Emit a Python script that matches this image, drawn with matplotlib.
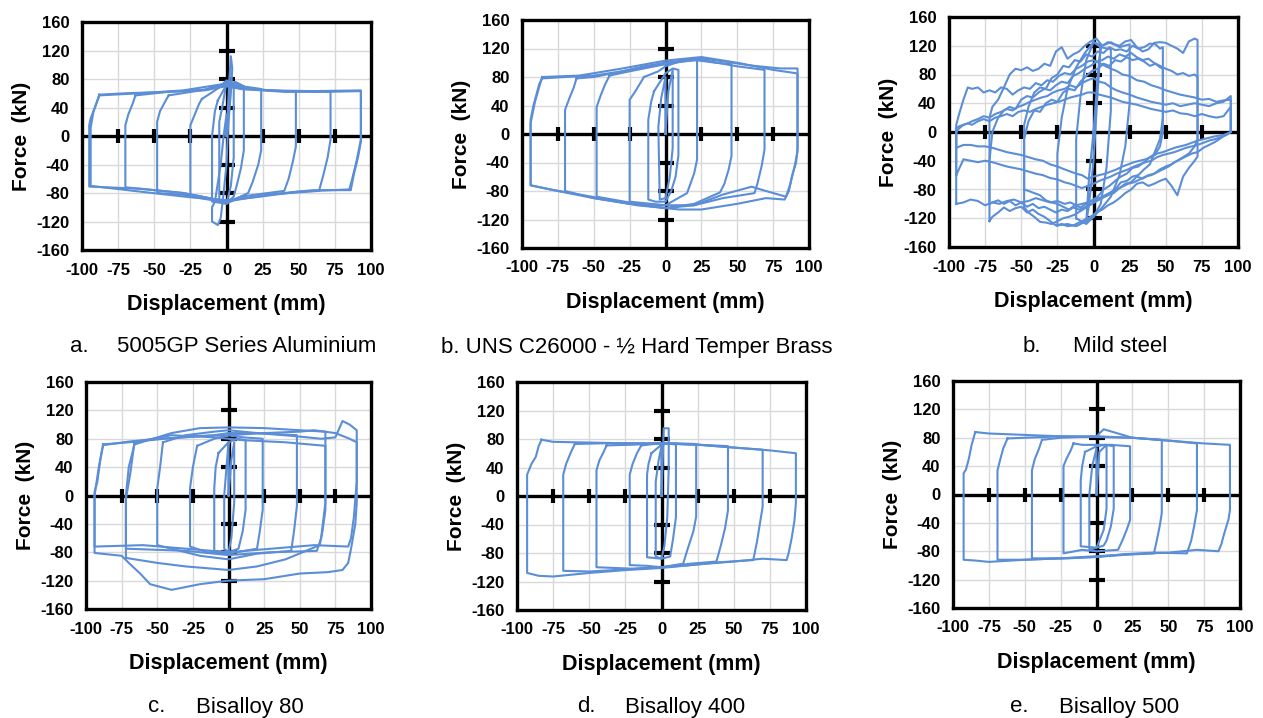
import matplotlib
matplotlib.use("Agg")
import matplotlib.pyplot as plt

plt.rcParams['font.family'] = ['Liberation Sans', 'DejaVu Sans']
plt.rcParams['axes.unicode_minus'] = False

LINE_COLOR = '#5b8ed6'

# ---------------- data: hysteresis loops, displacement (mm) / force (kN) ----------------
# a. 5005GP Series Aluminium
alu_x = [
    [0, 1, 2, 3, 4, 3, 1, 0, -2, -4, -6, -10, -10, -8, -4, -2, 0],
    [-3, 0, 5, 5, 3, 0, -5, -5, -3],
    [-6, 0, 6, 12, 12, 10, 7, 5, 0, -10, -10, -8, -6],
    [-17, -5, 0, 10, 24, 24, 22, 18, 15, 0, -10, -25, -25, -22, -19, -17],
    [-40, -15, 0, 10, 30, 48, 48, 46, 43, 40, 10, 0, -20, -48, -48, -46, -42, -40],
    [-63, -40, -15, 0, 10, 40, 72, 72, 70, 67, 64, 30, 0, -30, -70, -70, -68, -65, -63],
    [-88, -70, -40, -15, 0, 10, 40, 70, 93, 93, 91, 88, 86, 60, 30, 10, 0, -10, -30, -60, -95, -95, -94, -91, -88],
    [-88, -60, -30, -5, 5, 30, 60, 93, 93, 90, 87, 85, 50, 20, 0, -25, -60, -94, -94, -92, -88],
]
alu_y = [
    [0, 40, 80, 112, 95, 60, 10, -40, -80, -115, -125, -120, -100, -92, -40, 0, 30],
    [40, 75, 70, -30, -70, -95, -90, 20, 40],
    [50, 72, 76, 70, -20, -45, -70, -85, -95, -92, 0, 35, 50],
    [52, 68, 78, 70, 66, -20, -40, -65, -80, -95, -90, -85, 15, 30, 45, 52],
    [57, 65, 75, 68, 64, 62, -15, -35, -60, -77, -85, -93, -84, -80, 20, 35, 50, 57],
    [57, 62, 65, 72, 66, 63, 62, -5, -30, -55, -77, -82, -92, -80, -72, 15, 30, 45, 57],
    [58, 60, 62, 64, 70, 66, 62, 62, 63, -8, -30, -55, -76, -76, -82, -88, -92, -88, -80, -74, -71, 15, 25, 40, 58],
    [57, 60, 64, 72, 68, 64, 63, 64, -5, -35, -60, -75, -78, -86, -90, -86, -78, -70, 12, 35, 57],
]

# b. UNS C26000 - 1/2 Hard Temper Brass
brass_x = [
    [0, 2, 5, 5, 3, 0, -4, -5, -3, 0],
    [-8, 0, 5, 9, 9, 7, 4, 0, -7, -12, -12, -10, -8],
    [-15, -5, 0, 10, 22, 22, 20, 17, 15, 0, -10, -25, -25, -21, -18, -15],
    [-39, -25, 0, 20, 35, 46, 46, 44, 41, 38, 20, 0, -20, -48, -48, -45, -42, -39],
    [-62, -50, -25, 0, 25, 50, 69, 69, 67, 64, 62, 40, 20, 0, -25, -50, -70, -70, -67, -64, -62],
    [-86, -70, -50, -30, -15, 0, 15, 25, 40, 60, 80, 92, 92, 91, 88, 86, 83, 70, 50, 25, 10, 0, -20, -40, -60, -80, -94, -94, -92, -90, -88, -86],
    [-86, -60, -30, 0, 25, 50, 75, 92, 92, 90, 87, 84, 70, 60, 40, 20, 0, -25, -50, -75, -94, -94, -91, -86],
]
brass_y = [
    [0, 60, 90, -20, -60, -90, -92, 10, 50, 80],
    [60, 85, 92, 90, -30, -60, -80, -95, -95, -92, 20, 45, 60],
    [80, 88, 95, 102, 105, -36, -55, -72, -83, -100, -98, -95, 48, 60, 70, 80],
    [82, 88, 98, 104, 100, 98, -31, -50, -70, -82, -98, -104, -98, -88, 38, 55, 70, 82],
    [78, 80, 90, 100, 104, 95, 90, -22, -45, -70, -83, -90, -100, -104, -98, -90, -80, 34, 50, 65, 78],
    [78, 80, 82, 88, 95, 100, 104, 106, 102, 96, 92, 92, -20, -40, -60, -80, -92, -90, -98, -106, -106, -104, -100, -92, -85, -78, -72, 20, 40, 55, 70, 78],
    [80, 82, 92, 103, 108, 100, 90, 85, -25, -45, -70, -88, -80, -74, -85, -100, -100, -98, -90, -80, -72, 15, 45, 80],
]

# b. Mild steel (upper branch x and lower branch x for the larger cycles)
steel_up95_x = [-95, -95, -93, -90, -87, -84, -80, -76, -72, -68, -64, -60, -56, -52, -48, -44, -40, -36, -32, -28, -24, -20,
                -16, -12, -8, -4, 0, 4, 8, 12, 16, 20, 25, 30, 35, 40, 45, 50, 55, 60, 65, 70, 75, 80, 85, 90, 95]
steel_dn95_x = [95, 93, 90, 87, 84, 80, 76, 72, 68, 64, 60, 56, 52, 48, 44, 40, 36, 32, 28, 24, 20, 16, 12, 8, 4, 0,
                -4, -8, -12, -16, -20, -25, -30, -35, -40, -45, -50, -55, -60, -65, -70, -75, -80, -85, -90, -95]
steel_up72_x = [-72, -72, -70, -66, -62, -58, -54, -50, -46, -42, -38, -34, -30, -26, -22, -18, -14, -10, -6, -2,
                2, 6, 10, 14, 18, 22, 26, 30, 34, 38, 42, 46, 50, 54, 58, 62, 66, 70, 72]
steel_dn72_x = [72, 70, 66, 62, 58, 54, 50, 46, 42, 38, 34, 30, 26, 22, 18, 14, 10, 6, 2,
                -2, -6, -10, -14, -18, -22, -26, -30, -34, -38, -42, -46, -50, -54, -58, -62, -66, -70, -72]
steel_up48_x = [-48, -48, -45, -41, -37, -33, -29, -25, -21, -17, -13, -9, -5, -1, 3, 7, 11, 15, 19, 23, 27, 31, 35, 39, 43, 46, 48]
steel_dn48_x = [48, 46, 43, 39, 35, 31, 27, 23, 19, 15, 11, 7, 3, -1, -5, -9, -13, -17, -21, -25, -29, -33, -37, -41, -45, -48]

steel_x = [
    [0, 3, 5, 3, 0, -3, -5, -3, 0],
    [-12, -12, -9, -5, 0, 5, 12, 12, 9, 5, 0, -5, -12],
    [-25, -25, -22, -18, -12, -6, 0, 6, 12, 18, 25, 25, 22, 18, 12, 6, 0, -6, -12, -18, -25],
    steel_up48_x + steel_dn48_x,
    steel_up48_x + steel_dn48_x,
    steel_up72_x + steel_dn72_x,
    steel_up72_x + steel_dn72_x,
    steel_up95_x + steel_dn95_x,
    steel_up95_x + steel_dn95_x,
    steel_up95_x + steel_dn95_x,
]
steel_y = [
    [0, 80, 120, 60, -40, -100, -125, -60, 0],
    [-120, -10, 50, 100, 125, 118, 115, 30, -50, -100, -118, -128, -120],
    [-130, -30, 20, 60, 90, 110, 125, 120, 125, 118, 122, 40, -20, -60, -90, -105, -118, -125, -131, -128, -130],
    [-105, 10, 35, 55, 62, 60, 75, 80, 92, 90, 100, 98, 108, 105, 112, 110, 118, 114, 115, 112, 120, 116, 118, 123, 122, 116, 118,
     20, -10, -25, -45, -52, -60, -62, -68, -70, -80, -85, -90, -95, -100, -105, -110, -115, -118, -120, -124, -128, -126, -125, -118, -112, -105],
    [-80, -10, 15, 30, 28, 40, 45, 42, 55, 60, 58, 70, 78, 85, 88, 95, 92, 100, 98, 104, 100, 102, 98, 92, 95, 90, 88,
     0, -20, -30, -35, -42, -48, -50, -58, -62, -68, -75, -80, -90, -95, -100, -105, -102, -108, -104, -100, -98, -95, -88, -85, -82, -80],
    [-124, 20, 35, 45, 62, 80, 88, 86, 90, 85, 88, 95, 92, 112, 118, 102, 108, 112, 120, 126,
     130, 120, 125, 122, 120, 126, 128, 118, 112, 115, 124, 125, 124, 120, 116, 110, 126, 130, 128,
     -34, -40, -50, -62, -88, -75, -65, -68, -72, -75, -70, -72, -80, -85, -92, -98, -102, -108, -112,
     -118, -122, -126, -130, -131, -128, -130, -124, -118, -114, -108, -112, -104, -106, -110, -105, -112, -118, -124],
    [-100, -40, 0, 20, 30, 35, 32, 45, 50, 48, 55, 60, 58, 65, 70, 68, 78, 82, 88, 92,
     98, 100, 105, 102, 108, 105, 110, 104, 100, 102, 96, 92, 88, 85, 80, 82, 78, 80, 76,
     -10, -20, -30, -35, -40, -45, -48, -52, -58, -60, -65, -62, -70, -72, -78, -85, -88, -92, -96,
     -100, -105, -108, -105, -110, -108, -112, -108, -104, -106, -100, -104, -98, -102, -96, -100, -95, -98, -100],
    [-100, 10, 25, 45, 62, 60, 62, 55, 58, 55, 62, 60, 52, 58, 62, 60, 68, 65, 72, 70, 78, 82, 80, 88, 92, 98,
     100, 96, 92, 88, 85, 80, 78, 72, 70, 65, 62, 58, 55, 52, 50, 48, 45, 46, 42, 44, 45,
     0, -3, -6, -10, -14, -18, -22, -28, -30, -34, -38, -42, -48, -52, -56, -60, -62, -66, -70, -72, -76, -80, -84, -88, -92, -95,
     -98, -100, -102, -98, -100, -96, -98, -95, -92, -96, -98, -94, -96, -100, -98, -102, -96, -94, -98, -100],
    [-60, 0, 5, 10, 12, 15, 18, 22, 20, 25, 28, 32, 30, 35, 38, 42, 45, 48, 50, 55, 58, 60, 65, 62, 68, 72,
     75, 70, 68, 62, 58, 55, 52, 48, 45, 42, 40, 38, 40, 36, 38, 40, 38, 36, 40, 42, 50,
     0, -2, -5, -8, -10, -12, -15, -18, -20, -22, -25, -28, -30, -32, -35, -40, -42, -45, -48, -52, -55, -58, -62, -65, -68, -72,
     -75, -78, -75, -72, -70, -66, -64, -60, -58, -55, -52, -50, -48, -45, -42, -40, -42, -40, -38, -60],
    [-22, 5, 8, 10, 12, 10, 15, 18, 15, 20, 22, 25, 22, 28, 30, 28, 32, 35, 38, 40, 42, 45, 48, 50, 52, 55,
     55, 52, 50, 48, 45, 42, 40, 38, 35, 32, 30, 28, 30, 26, 25, 22, 25, 22, 20, 22, 35,
     0, -2, -4, -5, -6, -8, -10, -12, -15, -18, -20, -22, -25, -28, -30, -35, -38, -40, -42, -45, -48, -52, -55, -58, -60, -62,
     -65, -60, -58, -55, -52, -48, -45, -40, -38, -35, -32, -30, -28, -25, -22, -20, -20, -18, -18, -22],
]

# c. Bisalloy 80
b80_x = [
    [0, 2, 4, 4, 2, 0, -3, -3, -1, 0],
    [-7, 0, 6, 12, 12, 10, 7, 0, -10, -10, -9, -7],
    [-22, -10, 0, 10, 24, 24, 22, 20, 0, -15, -27, -27, -25, -22],
    [-46, -30, -10, 0, 20, 48, 48, 46, 44, 20, 0, -20, -50, -50, -48, -46],
    [-66, -40, -20, 0, 25, 50, 68, 68, 66, 64, 40, 20, 0, -30, -50, -72, -72, -70, -66],
    [-66, -40, -10, 10, 40, 68, 68, 65, 62, 30, 0, -30, -72, -72, -69, -66],
    [-88, -70, -50, -30, -10, 0, 20, 45, 65, 75, 80, 85, 90, 90, 89, 86, 84, 80, 70, 50, 25, 0, -20, -40, -55, -62, -70, -75, -94, -94, -92, -90, -88],
    [-88, -70, -45, -20, 0, 25, 50, 60, 75, 85, 90, 90, 88, 86, 84, 60, 30, 0, -30, -60, -94, -94, -91, -88],
]
b80_y = [
    [0, 50, 75, -10, -60, -80, -75, 0, 50, 75],
    [60, 75, 80, 78, -20, -50, -75, -80, -78, 10, 40, 60],
    [70, 80, 85, 82, 80, -20, -50, -75, -82, -80, -72, 10, 40, 70],
    [75, 85, 90, 92, 88, 85, -15, -50, -78, -82, -90, -85, -70, 10, 40, 75],
    [72, 88, 95, 96, 95, 92, 90, -20, -50, -70, -90, -100, -105, -100, -95, -88, 0, 40, 72],
    [75, 85, 82, 78, 75, 70, -10, -60, -78, -80, -84, -78, -75, -5, 30, 75],
    [71, 76, 80, 82, 85, 88, 88, 84, 80, 82, 105, 100, 92, -10, -40, -75, -95, -105, -108, -110, -118, -120, -125, -133, -125, -110, -95, -85, -81, 5, 20, 50, 71],
    [72, 75, 80, 84, 85, 88, 90, 92, 88, 80, 75, 20, -30, -60, -72, -70, -75, -80, -75, -70, -72, 0, 40, 72],
]

# d. Bisalloy 400
b400_x = [
    [0, 1, 1.5, 5, 5, 4, 2, 0, -4, -4, -2, 0],
    [-7, 0, 5, 10, 10, 8, 6, 0, -10, -10, -9, -7],
    [-14, -5, 0, 10, 24, 24, 22, 18, 15, 0, -10, -22, -22, -20, -17, -14],
    [-38, -20, 0, 25, 46, 46, 44, 41, 38, 20, 0, -20, -45, -45, -43, -40, -38],
    [-60, -40, -20, 0, 25, 50, 70, 70, 68, 66, 63.5, 40, 20, 0, -25, -50, -68, -68, -66, -63, -60],
    [-83, -75, -50, -25, 0, 25, 50, 75, 93, 93, 92, 90, 88, 86.6, 70, 50, 25, 0, -25, -50, -75, -85, -93, -93, -92, -90, -87, -85, -83],
]
b400_y = [
    [0, 60, 95, 95, 40, -30, -70, -88, -85, 20, 50, 70],
    [60, 72, 74, 72, -30, -60, -85, -88, -86, 30, 45, 60],
    [71, 73, 74, 74, 73, -29, -50, -75, -95, -100, -98, -97, 30, 45, 60, 71],
    [71, 72, 74, 72, 70, -20, -45, -70, -92, -95, -100, -102, -100, 36, 50, 62, 71],
    [73, 74, 74, 74, 72, 68, 65, -15, -40, -65, -90, -93, -97, -100, -103, -106, -105, 30, 45, 60, 73],
    [79, 76, 75, 74, 73.6, 72, 68, 64, 60, -10, -35, -60, -80, -90, -88, -92, -96, -101, -104, -108, -113, -112, -108, 30, 35, 45, 55, 70, 79],
]

# e. Bisalloy 500
b500_x = [
    [0, 2, 7, 7, 5, 0, -5, -5, -3, 0],
    [-8, 0, 6, 12, 12, 10, 7, 5, 0, -11, -11, -10, -8],
    [-16, -10, 0, 10, 23.4, 23.4, 21, 18, 15, 0, -10, -23, -23, -21, -18, -16],
    [-38, -25, 0, 25, 45.5, 45.5, 44, 42, 40, 20, 0, -20, -45, -45, -43, -40, -38],
    [-62, -50, -25, 0, 5, 25, 50, 70, 70, 68, 66, 63, 40, 20, 0, -25, -50, -69, -69, -67, -65, -62],
    [-84.5, -75, -50, -25, 0, 25, 50, 75, 93, 93, 92, 89, 87, 85, 70, 50, 25, 0, -25, -50, -75, -85, -92.6, -92.6, -91, -89, -87, -84.5],
]
b500_y = [
    [0, 60, 70, -20, -50, -75, -78, 0, 40, 65],
    [60, 68, 70, 68, -20, -45, -65, -72, -75, -73, 20, 40, 60],
    [72, 70, 70, 70, 68, -36, -50, -65, -78, -80, -78, -83, 40, 50, 62, 72],
    [77, 80, 82, 80, 77, -26, -45, -65, -83, -85, -88, -90, -90, 34, 50, 65, 77],
    [79, 80, 82, 82, 92, 80, 76, 72, -22, -45, -65, -83, -82, -84, -88, -90, -92, -92, 34, 50, 65, 79],
    [88, 86, 84, 82, 81, 80, 76, 72, 70, -22, -35, -55, -70, -80, -78, -82, -84, -87, -90, -92, -95, -93, -92, 30, 35, 50, 70, 88],
]

x_ticks = [-100, -75, -50, -25, 0, 25, 50, 75, 100]
y_ticks = [-160, -120, -80, -40, 0, 40, 80, 120, 160]

# panel boxes in figure pixels: left, top, right, bottom
W, H = 1263, 718
boxes = [
    (82, 22, 371, 250), (522, 20, 809, 248), (949, 17, 1238, 247),
    (86, 382, 371, 609), (517, 382, 806, 610), (953, 381, 1240, 608),
]
panels = [(alu_x, alu_y), (brass_x, brass_y), (steel_x, steel_y),
          (b80_x, b80_y), (b400_x, b400_y), (b500_x, b500_y)]


def draw_panel(ax, loops_x, loops_y):
    for lx, ly in zip(loops_x, loops_y):
        ax.plot(lx + [lx[0]], ly + [ly[0]], color=LINE_COLOR, lw=1.5, zorder=4)
    ax.set_xlim(-100, 100)
    ax.set_ylim(-160, 160)
    ax.set_xticks(x_ticks)
    ax.set_yticks(y_ticks)
    ax.grid(True, color='#d9d9d9', lw=1.0, zorder=0)
    ax.set_axisbelow(True)
    ax.tick_params(length=0, pad=9, labelsize=12)
    for lab in ax.get_xticklabels() + ax.get_yticklabels():
        lab.set_fontweight('bold')
    for sp in ax.spines.values():
        sp.set_linewidth(2.4)
        sp.set_color('black')
    ax.axhline(0, color='black', lw=2.4, zorder=2)
    ax.axvline(0, color='black', lw=2.4, zorder=2)
    inner_x = [t for t in x_ticks if t not in (-100, 0, 100)]
    inner_y = [t for t in y_ticks if t not in (-160, 0, 160)]
    ax.plot(inner_x, [0] * len(inner_x), ls='none', marker='|', ms=10, mew=3, color='black', zorder=3)
    ax.plot([0] * len(inner_y), inner_y, ls='none', marker='_', ms=12, mew=3, color='black', zorder=3)
    ax.set_xlabel('Displacement (mm)', fontsize=15.5, fontweight='bold', labelpad=12)
    ax.set_ylabel('Force  (kN)', fontsize=15, fontweight='bold', labelpad=4)


fig = plt.figure(figsize=(W / 100, H / 100), dpi=100)
for (l, t, r, b), (px, py) in zip(boxes, panels):
    ax = fig.add_axes([l / W, 1 - b / H, (r - l) / W, (b - t) / H])
    draw_panel(ax, px, py)

cap = dict(fontsize=16, va='center')
fig.text(70 / W, 1 - 347 / H, 'a.', **cap)
fig.text(117 / W, 1 - 347 / H, '5005GP Series Aluminium', **cap)
fig.text(637 / W, 1 - 347 / H, 'b. UNS C26000 - ½ Hard Temper Brass', ha='center', **cap)
fig.text(1023 / W, 1 - 347 / H, 'b.', **cap)
fig.text(1073 / W, 1 - 347 / H, 'Mild steel', **cap)
fig.text(148 / W, 1 - 707 / H, 'c.', **cap)
fig.text(196 / W, 1 - 707 / H, 'Bisalloy 80', **cap)
fig.text(577 / W, 1 - 707 / H, 'd.', **cap)
fig.text(625 / W, 1 - 707 / H, 'Bisalloy 400', **cap)
fig.text(1010 / W, 1 - 707 / H, 'e.', **cap)
fig.text(1059 / W, 1 - 707 / H, 'Bisalloy 500', **cap)

fig.savefig('out.png', dpi=100)
